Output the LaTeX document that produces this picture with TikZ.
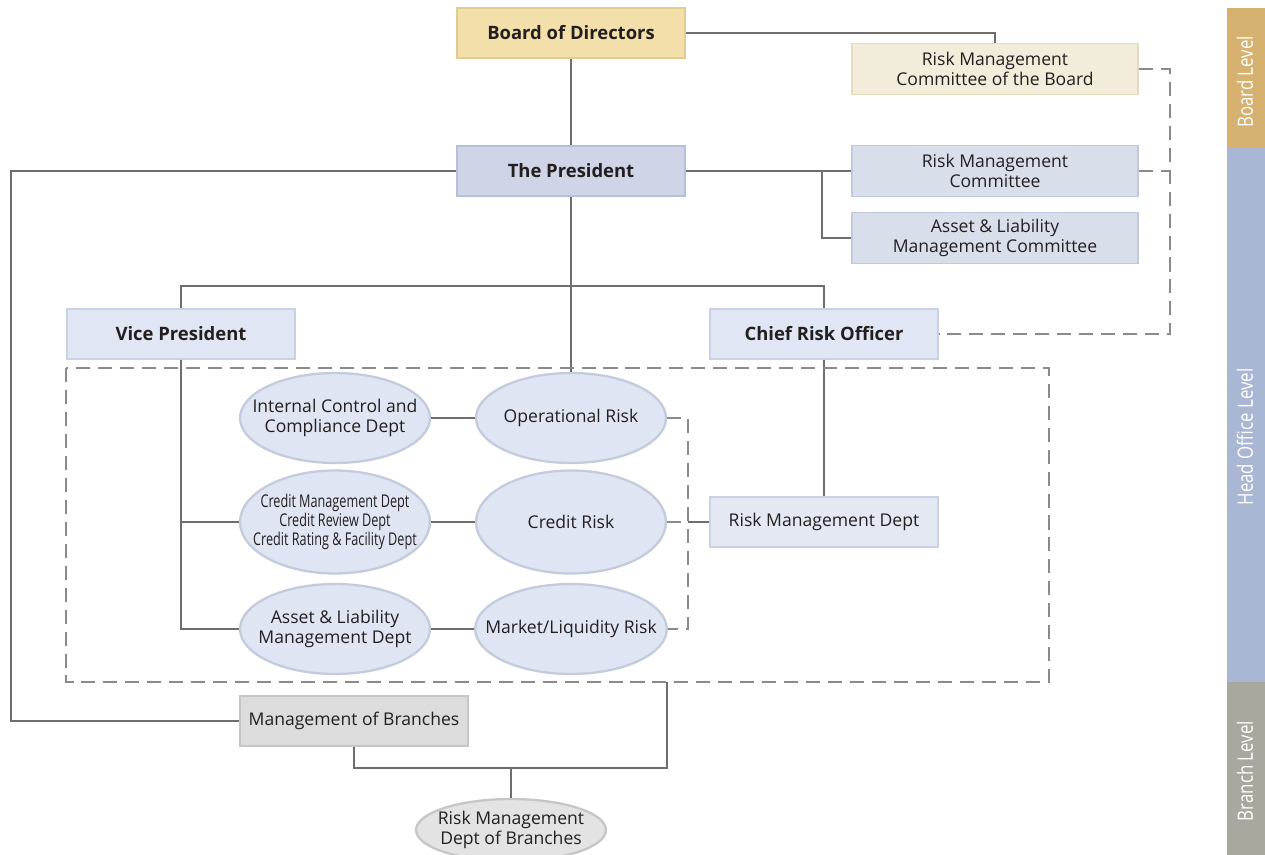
\documentclass[tikz,border=0pt]{standalone}
\usepackage{fontspec}
\setmainfont{Open Sans}
\usetikzlibrary{shapes.geometric}
\definecolor{inkc}{HTML}{231F20}
\definecolor{linec}{HTML}{6E6E6E}
\definecolor{dashc}{HTML}{8A8A8A}
\definecolor{goldfill}{HTML}{F3DFAA}
\definecolor{goldedge}{HTML}{E3CC91}
\definecolor{creamfill}{HTML}{F2ECDA}
\definecolor{creamedge}{HTML}{E6DBBD}
\definecolor{presfill}{HTML}{CFD4E6}
\definecolor{presedge}{HTML}{B7BFDA}
\definecolor{commfill}{HTML}{D9DEEB}
\definecolor{commedge}{HTML}{C2C9DF}
\definecolor{vpfill}{HTML}{E0E6F4}
\definecolor{vpedge}{HTML}{CAD1E4}
\definecolor{deptfill}{HTML}{E4E8F2}
\definecolor{greyfill}{HTML}{DCDCDC}
\definecolor{greyedge}{HTML}{C6C6C6}
\definecolor{ovalfill}{HTML}{DFE5F2}
\definecolor{ovaledge}{HTML}{C4CBDD}
\definecolor{barGold}{HTML}{D7B16F}
\definecolor{barBlue}{HTML}{AAB7D4}
\definecolor{barGrey}{HTML}{A9A89E}
\newcommand{\narrowtxt}[2][0.8]{\scalebox{#1}[1]{#2}}

\begin{document}
\begin{tikzpicture}[x=0.02cm, y=-0.02cm,
    every node/.style={text=inkc, font=\fontsize{10}{11}\selectfont, align=center, inner sep=0pt},
    box/.style={rectangle, line width=1pt, minimum width=4.56cm, minimum height=1cm},
    headbox/.style={box, font=\fontsize{10.5}{12}\selectfont\bfseries},
    commbox/.style={box, minimum width=5.72cm, minimum height=1.02cm},
    oval/.style={ellipse, fill=ovalfill, draw=ovaledge, line width=1.3pt, inner xsep=-0.36cm, minimum width=3.8cm, minimum height=1.8cm},
    link/.style={draw=linec, line width=0.6pt},
    dlink/.style={draw=dashc, line width=0.6pt, dash pattern=on 8pt off 4.5pt}]
\useasboundingbox (0,0) rectangle (1265,855);

\node[headbox, fill=goldfill, draw=goldedge] (bod) at (571,33) {Board of Directors};
\node[commbox, fill=creamfill, draw=creamedge] (rmcb) at (995,69) {Risk Management\\Committee of the Board};
\node[headbox, fill=presfill, draw=presedge] (pres) at (571,171) {The President};
\node[commbox, fill=commfill, draw=commedge] (rmc) at (995,171) {Risk Management\\Committee};
\node[commbox, fill=commfill, draw=commedge] (almc) at (995,238) {Asset \& Liability\\Management Committee};
\node[headbox, fill=vpfill, draw=vpedge] (vp) at (181,334) {Vice President};
\node[headbox, fill=vpfill, draw=vpedge] (cro) at (824,334) {Chief Risk Officer};

\node[oval] (icc) at (335,418) {Internal Control and\\Compliance Dept};
\node[oval, minimum height=2.06cm] (crdept) at (335,522) {\narrowtxt[0.72]{Credit Management Dept}\\\narrowtxt[0.72]{Credit Review Dept}\\\narrowtxt[0.72]{Credit Rating \& Facility Dept}};
\node[oval] (almdept) at (335,629) {Asset \& Liability\\Management Dept};
\node[oval] (oprisk) at (571,418) {Operational Risk};
\node[oval, minimum height=2.06cm] (crrisk) at (571,522) {Credit Risk};
\node[oval] (mlrisk) at (571,629) {Market/Liquidity Risk};
\node[box, fill=deptfill, draw=vpedge] (rmd) at (824,522) {Risk Management Dept};

\node[box, fill=greyfill, draw=greyedge] (mob) at (354,721) {Management of Branches};
\node[oval, fill=greyfill!80, draw=greyedge, minimum height=1.24cm] (rmdb) at (511,830) {Risk Management\\Dept of Branches};

\coordinate (j1) at (822,171);
\coordinate (edge) at (11,450);
\coordinate (bar) at (571,286);
\coordinate (brk) at (688,522);
\coordinate (rb) at (1170,200);
\coordinate (bj) at (511,768);
\coordinate (rbot) at (667,682);

\draw[link] (bod) -- (pres);
\draw[link] (bod.east) -| (rmcb.north);
\draw[link] (pres.east) -- (rmc.west);
\draw[link] (j1) |- (almc.west);
\draw[link] (pres.west) -| (edge) |- (mob.west);
\draw[link] (pres) -- (oprisk);
\draw[link] (vp.north) |- (bar) -| (cro.north);
\draw[link] (vp.south) |- (almdept.west);
\draw[link] (vp.south |- crdept.west) -- (crdept.west);
\draw[link] (icc) -- (oprisk);
\draw[link] (crdept) -- (crrisk);
\draw[link] (almdept) -- (mlrisk);
\draw[link] (cro) -- (rmd);
\draw[link] (brk) -- (rmd.west);
\draw[dlink] (oprisk.east) -| (brk) |- (mlrisk.east);
\draw[dlink] (crrisk.east) -- (brk);
\draw[dlink] (rmcb.east) -| (rb) |- (cro.east);
\draw[dlink] (rmc.east) -- (rmc.east -| rb);
\draw[dlink] (66,368) rectangle (1049,682);
\draw[link] (mob.south) |- (bj) -| (rbot);
\draw[link] (bj) -- (rmdb);

\foreach \lname/\ya/\yb/\yc/\col [count=\i] in {Board Level/8/147/82/barGold, Head Office Level/147/682/437/barBlue, Branch Level/682/855/771/barGrey} {
    \fill[\col] (1227,\ya) rectangle (1265,\yb);
    \node[rotate=90, text=white, font=\fontsize{12}{14}\selectfont] (lvl\i) at (1245,\yc) {\narrowtxt{\lname}};
}
\end{tikzpicture}
\end{document}
